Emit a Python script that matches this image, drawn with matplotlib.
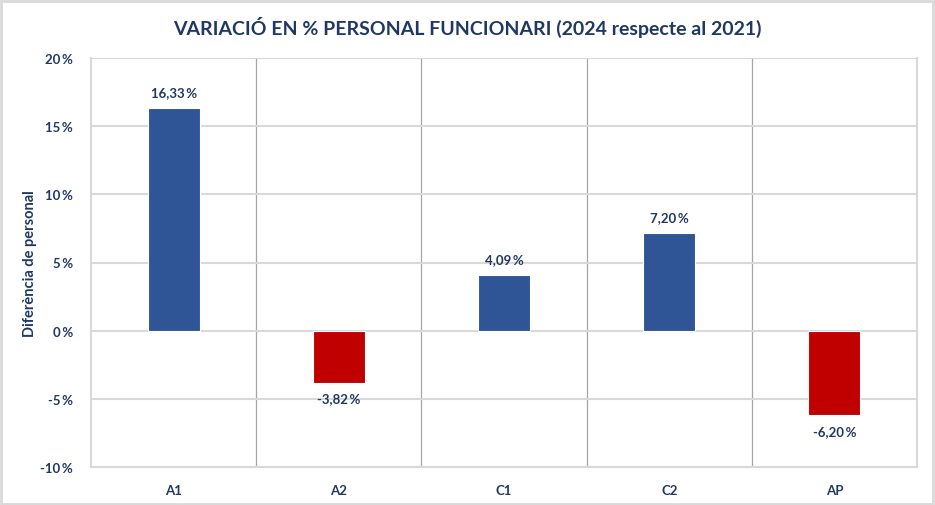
import matplotlib.pyplot as plt
from matplotlib.patches import Rectangle

categories = ["A1", "A2", "C1", "C2", "AP"]
values = [16.33, -3.82, 4.09, 7.20, -6.20]
yticks = [-10, -5, 0, 5, 10, 15, 20]

navy = "#1F3864"
blue = "#2F5597"
red = "#C00000"

plt.rcParams["font.family"] = ["Lato", "DejaVu Sans"]

fig = plt.figure(figsize=(9.35, 5.06), dpi=100)
ax = fig.add_axes([91 / 935, 1 - 468 / 506, (917 - 91) / 935, (468 - 59) / 506])

x = range(len(categories))
colors = [blue if v >= 0 else red for v in values]
ax.bar(x, values, width=52 / 165, color=colors, edgecolor="white", linewidth=0.8, zorder=3)

for i, v in enumerate(values):
    label = f"{v:.2f}".replace(".", ",") + "\u2009%"
    if v >= 0:
        ax.annotate(label, (i, v), xytext=(0, 7), textcoords="offset points",
                    ha="center", va="bottom", fontsize=9.5, fontweight="bold", color=navy)
    else:
        ax.annotate(label, (i, v), xytext=(0, -7), textcoords="offset points",
                    ha="center", va="top", fontsize=9.5, fontweight="bold", color=navy)

ax.set_xlim(-0.5, len(categories) - 0.5)
ax.set_ylim(-10, 20)
ax.set_yticks(yticks)
ax.set_yticklabels([f"{t}\u2009%" for t in yticks])
ax.set_xticks(list(x))
ax.set_xticklabels(categories)
ax.tick_params(axis="both", length=0, colors=navy, labelsize=9.5)
for lab in ax.get_xticklabels() + ax.get_yticklabels():
    lab.set_fontweight("bold")
ax.tick_params(axis="x", pad=12)
ax.tick_params(axis="y", pad=13)

ax.grid(axis="y", color="#D9D9D9", linewidth=1.5, zorder=0)
for b in range(1, len(categories)):
    ax.axvline(b - 0.5, color="#A6A6A6", linewidth=0.9, zorder=1)
for s in ax.spines.values():
    s.set_color("#D9D9D9")
    s.set_linewidth(1.5)
ax.spines["top"].set_visible(False)

ax.set_ylabel("Diferència de personal", fontsize=10.5, fontweight="bold", color=navy)
ax.yaxis.set_label_coords(-54 / 826, 0.5)

fig.text(0.5, 1 - 27 / 506, "VARIACIÓ EN % PERSONAL FUNCIONARI (2024 respecte al 2021)",
         ha="center", va="center", fontsize=14, fontweight="bold", color=navy)

fig.patches.append(Rectangle((0.001, 0.002), 0.997, 0.995, transform=fig.transFigure,
                             fill=False, edgecolor="#D9D9D9", linewidth=2))

fig.savefig("out.png", dpi=100)
